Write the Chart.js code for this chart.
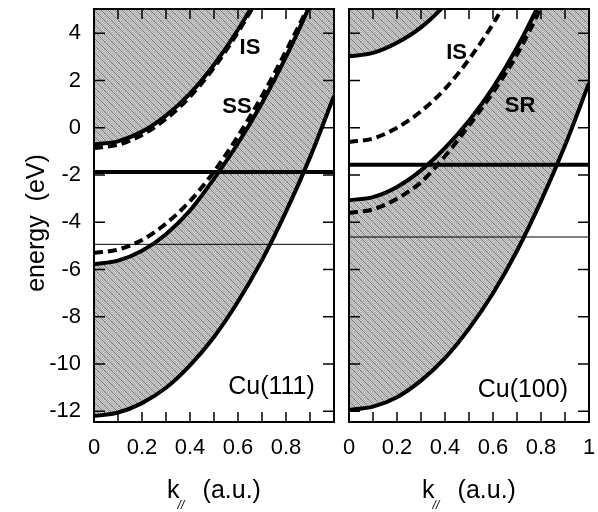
<!DOCTYPE html>
<html>
<head>
<meta charset="utf-8">
<script src="https://cdn.jsdelivr.net/npm/chart.js@4.4.1/dist/chart.umd.min.js"></script>
<style>
  body { margin: 0; background: #fff; }
  #wrap { position: relative; width: 598px; height: 512px; }
  #left { position: absolute; left: 0; top: 0; }
  #right { position: absolute; left: 340px; top: 0; }
</style>
</head>
<body>
<div id="wrap">
  <canvas id="left" width="340" height="512"></canvas>
  <canvas id="right" width="258" height="512"></canvas>
</div>
<script>
// k grid (a.u.) shared by all curves
const kGrid = [0, 0.1, 0.2, 0.3, 0.4, 0.5, 0.6, 0.7, 0.8, 0.9, 1.0];

// Cu(111) - energies in eV
const cu111BandBottom = [-12.2, -12.05, -11.65, -11.0, -10.05, -8.85, -7.35, -5.6, -3.55, -1.25, 1.35];
const cu111GapLower   = [-5.77, -5.62, -5.2, -4.5, -3.5, -2.15, -0.65, 1.05, 3.0, 5.2, 7.6];
const cu111SS         = [-5.3, -5.15, -4.75, -4.05, -3.1, -1.85, -0.35, 1.35, 3.25, 5.3, 7.7];
const cu111GapUpper   = [-0.7, -0.57, -0.16, 0.52, 1.45, 2.67, 4.15, 5.9, 7.9, 10.2, 12.8];
const cu111IS         = [-0.85, -0.72, -0.3, 0.38, 1.32, 2.55, 4.05, 5.8, 7.8, 10.1, 12.7];
const cu111Levels     = [-1.87, -4.93];

// Cu(100)
const cu100BandBottom = [-11.94, -11.8, -11.4, -10.7, -9.75, -8.5, -7.0, -5.2, -3.1, -0.75, 1.9];
const cu100GapLower   = [-3.06, -2.93, -2.5, -1.8, -0.85, 0.3, 1.7, 3.4, 5.4, 7.6, 10.0];
const cu100SR         = [-3.6, -3.45, -3.0, -2.3, -1.2, 0.1, 1.5, 3.1, 5.1, 7.4, 9.8];
const cu100GapUpper   = [3.03, 3.17, 3.6, 4.25, 5.2, 6.4, 7.9, 9.6, 11.6, 13.8, 16.3];
const cu100IS         = [-0.6, -0.45, 0.0, 0.7, 1.65, 2.9, 4.4, 6.2, 8.2, 10.5, 13.0];
const cu100Levels     = [-1.56, -4.62];

// ticks
const energyTicks = [-12, -10, -8, -6, -4, -2, 0, 2, 4];
const kMinorTicks = [0, 0.1, 0.2, 0.3, 0.4, 0.5, 0.6, 0.7, 0.8, 0.9, 1.0];
const kLabels111 = [0, 0.2, 0.4, 0.6, 0.8];
const kLabels100 = [0, 0.2, 0.4, 0.6, 0.8, 1];

const FONT = "'Liberation Sans', Arial, Helvetica, sans-serif";

// grey dithered fill with diagonal hatching
function makeHatch(ctx) {
    const c = document.createElement("canvas");
    c.width = 7; c.height = 7;
    const g = c.getContext("2d");
    g.fillStyle = "#cdcdcd";
    g.fillRect(0, 0, 7, 7);
    g.fillStyle = "#acacac";
    for (let y = 0; y < 7; y++)
        for (let x = 0; x < 7; x++)
            if ((x + y) % 2 === 0) g.fillRect(x, y, 1, 1);
    g.fillStyle = "#7a7a7a";
    for (let i = 0; i < 7; i++) g.fillRect(i, i, 1, 1);
    return ctx.createPattern(c, "repeat");
}

function curve(ys, extra) {
    return Object.assign({
        data: kGrid.map((k, i) => ({ x: k, y: ys[i] })),
        borderColor: "#000",
        borderWidth: 4,
        pointRadius: 0,
        cubicInterpolationMode: "monotone",
        fill: false,
        clip: 0,
    }, extra);
}

function level(e, w) {
    return {
        data: [{ x: 0, y: e }, { x: 1, y: e }],
        borderColor: "#000",
        borderWidth: w,
        pointRadius: 0,
        fill: false,
        clip: 0,
    };
}

// frame, inward ticks, in-plot labels and axis titles
const framePlugin = {
    id: "frame",
    afterDatasetsDraw(chart, args, opts) {
        const { ctx, chartArea: a, scales: { x, y } } = chart;
        ctx.save();
        ctx.strokeStyle = "#000";
        ctx.lineWidth = 1.5;
        ctx.beginPath();
        kMinorTicks.forEach(k => {
            const px = x.getPixelForValue(k);
            ctx.moveTo(px, a.bottom); ctx.lineTo(px, a.bottom - 10);
            ctx.moveTo(px, a.top); ctx.lineTo(px, a.top + 10);
        });
        energyTicks.forEach(e => {
            const py = y.getPixelForValue(e);
            ctx.moveTo(a.left, py); ctx.lineTo(a.left + 11, py);
            ctx.moveTo(a.right, py); ctx.lineTo(a.right - 11, py);
        });
        ctx.stroke();
        ctx.lineWidth = 2;
        ctx.strokeRect(a.left, a.top, a.width, a.height);

        ctx.fillStyle = "#000";
        ctx.textBaseline = "middle";
        opts.labels.forEach(l => {
            ctx.font = (l.bold ? "bold " : "") + l.size + "px " + FONT;
            ctx.textAlign = l.align || "center";
            ctx.fillText(l.text, x.getPixelForValue(l.k), y.getPixelForValue(l.e));
        });

        // x title: k with // subscript, then (a.u.)
        ctx.font = "25px " + FONT;
        ctx.textAlign = "left";
        ctx.textBaseline = "alphabetic";
        const wk = ctx.measureText("k").width;
        const wu = ctx.measureText("(a.u.)").width;
        const gap = 23;
        const cx = (a.left + a.right) / 2;
        const x0 = cx - (wk + gap + wu) / 2;
        const base = 498;
        ctx.fillText("k", x0, base);
        ctx.fillText("(a.u.)", x0 + wk + gap, base);
        ctx.font = "italic 12px " + FONT;
        ctx.fillText("//", x0 + wk - 2, base + 11);

        if (opts.yTitle) {
            ctx.save();
            ctx.translate(37, 223);
            ctx.rotate(-Math.PI / 2);
            ctx.font = "25px " + FONT;
            ctx.textAlign = "center";
            ctx.textBaseline = "middle";
            ctx.fillText(opts.yTitle, 0, 0);
            ctx.restore();
        }
        ctx.restore();
    },
};

function buildChart(id, sets, kLabels, showY, labels) {
    const ctx = document.getElementById(id).getContext("2d");
    const hatch = makeHatch(ctx);
    return new Chart(ctx, {
        type: "line",
        data: {
            datasets: [
                curve(sets.bottom),
                curve(sets.gapLower, { fill: 0, backgroundColor: hatch }),
                curve(sets.gapUpper, { fill: "end", backgroundColor: hatch }),
                curve(sets.lowerState, { borderDash: [9, 5] }),
                curve(sets.upperState, { borderDash: [9, 5] }),
                level(sets.levels[0], 4),
                level(sets.levels[1], 1),
            ],
        },
        options: {
            responsive: false,
            animation: false,
            events: [],
            layout: { padding: { left: showY ? 0 : 9, right: showY ? 6 : 9, top: 9, bottom: 0 } },
            plugins: {
                legend: { display: false },
                tooltip: { enabled: false },
                filler: { drawTime: "beforeDatasetsDraw" },
                frame: { labels: labels, yTitle: showY ? "energy  (eV)" : null },
            },
            scales: {
                x: {
                    type: "linear",
                    min: 0,
                    max: 1,
                    grid: { display: false, drawTicks: false },
                    border: { display: false },
                    afterBuildTicks: s => { s.ticks = kLabels.map(v => ({ value: v })); },
                    afterFit: s => {
                        s.height = 90;
                        s.paddingLeft = 0; s.paddingRight = 0;
                    },
                    ticks: {
                        padding: 13,
                        autoSkip: false,
                        maxRotation: 0,
                        color: "#000",
                        font: { family: FONT, size: 22 },
                        callback: v => String(v),
                    },
                },
                y: {
                    type: "linear",
                    min: -12.45,
                    max: 5.03,
                    display: showY,
                    grid: { display: false, drawTicks: false },
                    border: { display: false },
                    afterBuildTicks: s => { s.ticks = energyTicks.map(v => ({ value: v })); },
                    afterFit: s => {
                        s.width = showY ? 94 : 0;
                        s.paddingTop = 0; s.paddingBottom = 0;
                    },
                    ticks: {
                        padding: 13,
                        color: "#000",
                        font: { family: FONT, size: 22 },
                        callback: v => String(v),
                    },
                },
            },
        },
        plugins: [framePlugin],
    });
}

buildChart("left", {
    bottom: cu111BandBottom,
    gapLower: cu111GapLower,
    gapUpper: cu111GapUpper,
    lowerState: cu111SS,
    upperState: cu111IS,
    levels: cu111Levels,
}, kLabels111, true, [
    { text: "IS", k: 0.65, e: 3.37, bold: true, size: 22 },
    { text: "SS", k: 0.596, e: 0.87, bold: true, size: 22 },
    { text: "Cu(111)", k: 0.92, e: -10.96, size: 25, align: "right" },
]);

buildChart("right", {
    bottom: cu100BandBottom,
    gapLower: cu100GapLower,
    gapUpper: cu100GapUpper,
    lowerState: cu100SR,
    upperState: cu100IS,
    levels: cu100Levels,
}, kLabels100, false, [
    { text: "IS", k: 0.448, e: 3.16, bold: true, size: 22 },
    { text: "SR", k: 0.7125, e: 0.92, bold: true, size: 22 },
    { text: "Cu(100)", k: 0.9125, e: -11.09, size: 25, align: "right" },
]);
</script>
</body>
</html>
